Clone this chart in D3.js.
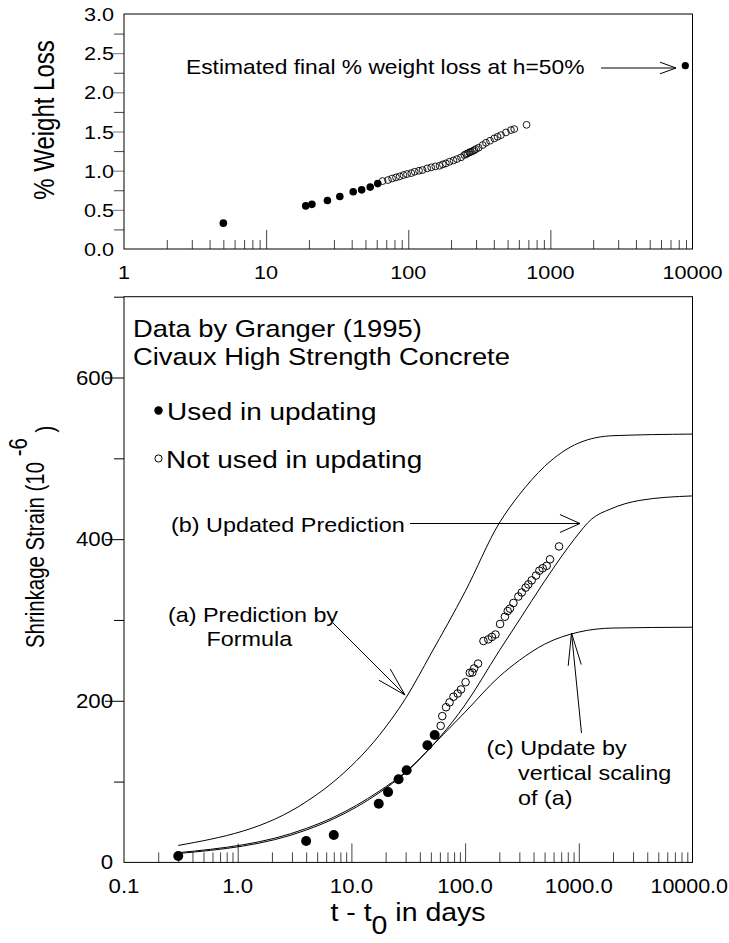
<!DOCTYPE html>
<html><head><meta charset="utf-8">
<script src="https://cdn.jsdelivr.net/npm/d3@7"></script>
<style>
body{margin:0;background:#fff}
svg{display:block}
text{font-family:"Liberation Sans",Arial,Helvetica,sans-serif;fill:#000}
</style>
</head><body>
<svg id="chart" width="729" height="943"></svg>
<script>
// ---------- DATA ----------
// Top panel: % weight loss vs time (days)
const wlUsedT = [5, 19, 21, 27, 33, 41, 47, 54, 61];
const wlUsedV = [0.33, 0.55, 0.57, 0.62, 0.67, 0.73, 0.755, 0.79, 0.835];
const wlNotT = [66, 72, 77, 82, 87, 92.5, 98, 105, 111, 119, 126, 136, 145, 155, 166, 175, 184, 195, 208, 220, 235, 248, 255, 262, 269, 276, 284, 292, 300, 313, 334, 352, 376, 403, 425, 449, 487, 528, 557, 680];
const wlNotV = [0.867, 0.88, 0.90, 0.914, 0.927, 0.944, 0.957, 0.969, 0.986, 0.999, 1.008, 1.029, 1.042, 1.055, 1.063, 1.08, 1.093, 1.114, 1.131, 1.148, 1.17, 1.199, 1.212, 1.22, 1.233, 1.241, 1.25, 1.263, 1.276, 1.293, 1.327, 1.356, 1.382, 1.412, 1.433, 1.454, 1.488, 1.518, 1.531, 1.585];
const wlFinalT = [8900];
const wlFinalV = [2.34];
const topXTicks = [1, 10, 100, 1000, 10000];
const topXTickLabels = ["1", "10", "100", "1000", "10000"];
const topYTicks = [0, 0.5, 1.0, 1.5, 2.0, 2.5, 3.0];
const topYTickLabels = ["0.0", "0.5", "1.0", "1.5", "2.0", "2.5", "3.0"];

// Bottom panel: shrinkage strain (1e-6) vs t - t0 (days)
const usedT = [0.3, 4, 7, 17.4, 21, 26, 30.6, 46.6, 54];
const usedV = [8, 26.5, 34, 72.6, 87, 103, 114, 145, 157.6];
const notUsedT = [61, 63, 68, 73, 79, 86, 92, 101, 110, 116, 120, 130, 145, 160, 172, 185, 203, 224, 237, 248, 266, 294, 315, 341, 360, 385, 421, 450, 481, 522, 558, 670];
const notUsedV = [169, 181, 192, 198, 205, 209, 214, 223, 234.6, 235, 240, 246, 274, 276, 279, 282, 295, 304, 311, 314, 321, 329, 334, 340, 344, 349, 355, 361, 364, 367, 375, 391];
// Curve (a) prediction by formula
const curveAT = [0.3, 4, 7, 17.5, 30, 50, 100, 200, 300, 500, 1000, 2000, 10000];
const curveAV = [21, 75, 100, 157, 203, 258, 335, 420, 455, 490, 519, 528, 530];
// Curve (b) updated prediction
const curveBT = [0.3, 4, 7, 17.5, 30, 45, 60, 100, 200, 300, 500, 700, 925, 1300, 1880, 3450, 10000];
const curveBV = [12, 42, 56, 88, 112, 136, 155, 195, 262, 300, 348, 378, 401, 425, 437, 448, 453.5];
// Curve (c) update by vertical scaling of (a)
const curveCT = [0.3, 4, 7, 17.5, 30, 60, 100, 200, 300, 500, 1000, 2000, 10000];
const curveCV = [11, 40, 54, 86, 111, 154, 186, 230, 250, 270, 285, 290, 291];
const botXTicks = [0.1, 1, 10, 100, 1000, 10000];
const botXTickLabels = ["0.1", "1.0", "10.0", "100.0", "1000.0", "10000.0"];
const botYTicks = [0, 200, 400, 600];
const botYTickLabels = ["0", "200", "400", "600"];

// ---------- DRAWING ----------
const SX = 1.14; // horizontal text stretch of the original figure
const svg = d3.select("#chart");

function txt(g, x, y, str, size, anchor, sx) {
  return g.append("text")
    .attr("transform", `translate(${x},${y}) scale(${sx || SX},1)`)
    .attr("font-size", size)
    .attr("text-anchor", anchor || "start")
    .text(str);
}
function arrowHead(g, tip, from, len, half) {
  const ang = Math.atan2(from[1] - tip[1], from[0] - tip[0]);
  const p1 = [tip[0] + len * Math.cos(ang + half), tip[1] + len * Math.sin(ang + half)];
  const p2 = [tip[0] + len * Math.cos(ang - half), tip[1] + len * Math.sin(ang - half)];
  g.append("path").attr("d", `M${p1}L${tip}L${p2}`).attr("fill", "none").attr("stroke", "#000").attr("stroke-width", 1);
  g.append("path").attr("d", `M${from}L${tip}`).attr("fill", "none").attr("stroke", "#000").attr("stroke-width", 1);
}
function minorLog(lo, hi) {
  const out = [];
  for (let d = lo; d < hi * 0.999; d *= 10) for (let m = 2; m <= 9; m++) out.push(d * m);
  return out;
}
function tickAxis(g, axis, vals, len, color) {
  g.call(axis.tickValues(vals).tickSize(-len).tickFormat(""))
   .call(s => s.select(".domain").remove())
   .call(s => s.selectAll("line").attr("stroke", color || "#222").attr("stroke-width", 1));
}

// ===== Top panel =====
const T = {l: 124, r: 692.5, t: 14, b: 249};
const xT = d3.scaleLog().domain([1, 10000]).range([T.l, T.r]);
const yT = d3.scaleLinear().domain([0, 3]).range([T.b, T.t]);
const gT = svg.append("g");

tickAxis(gT.append("g").attr("transform", `translate(0,${T.b})`), d3.axisBottom(xT), [10, 100, 1000], 19, "#444");
tickAxis(gT.append("g").attr("transform", `translate(0,${T.b})`), d3.axisBottom(xT), minorLog(1, 10000), 9, "#444");
tickAxis(gT.append("g").attr("transform", `translate(${T.l},0)`), d3.axisLeft(yT), [0.5, 1, 1.5, 2, 2.5], -11, "#777");
tickAxis(gT.append("g").attr("transform", `translate(${T.l},0)`), d3.axisLeft(yT), d3.range(0.25, 3, 0.5), -10, "#444");
gT.append("rect").attr("x", T.l).attr("y", T.t).attr("width", T.r - T.l).attr("height", T.b - T.t)
  .attr("fill", "none").attr("stroke", "#000").attr("stroke-width", 1);

topXTicks.forEach((v, i) => txt(gT, xT(v), 279, topXTickLabels[i], 19, "middle"));
topYTicks.forEach((v, i) => txt(gT, 114, yT(v) + 7, topYTickLabels[i], 19, "end"));

gT.append("text").attr("transform", `translate(54,120) rotate(-90) scale(1,1.2)`)
  .attr("font-size", 24).attr("text-anchor", "middle").text("% Weight Loss");

gT.selectAll("circle.wn").data(wlNotT).join("circle").attr("class", "wn")
  .attr("cx", d => xT(d)).attr("cy", (d, i) => yT(wlNotV[i])).attr("r", 3.4)
  .attr("fill", "none").attr("stroke", "#000").attr("stroke-width", 0.9);
gT.selectAll("circle.wu").data(wlUsedT).join("circle").attr("class", "wu")
  .attr("cx", d => xT(d)).attr("cy", (d, i) => yT(wlUsedV[i])).attr("r", 3.8).attr("fill", "#000");
gT.selectAll("circle.wf").data(wlFinalT).join("circle").attr("class", "wf")
  .attr("cx", d => xT(d)).attr("cy", (d, i) => yT(wlFinalV[i])).attr("r", 3.6).attr("fill", "#000");

txt(gT, 186, 74, "Estimated final % weight loss at h=50%", 20, "start");
arrowHead(gT, [676, 68], [601, 68], 17, 0.35);

// ===== Bottom panel =====
const B = {l: 124, r: 692.5, t: 296.7, b: 862.4};
const xB = d3.scaleLog().domain([0.1, 10000]).range([B.l, B.r]);
const yB = d3.scaleLinear().domain([0, 700]).range([B.b, B.t]);
const gB = svg.append("g");

tickAxis(gB.append("g").attr("transform", `translate(0,${B.b})`), d3.axisBottom(xB), [1, 10, 100, 1000], 19, "#444");
tickAxis(gB.append("g").attr("transform", `translate(0,${B.b})`), d3.axisBottom(xB), minorLog(0.1, 10000), 10, "#444");
tickAxis(gB.append("g").attr("transform", `translate(${B.l},0)`), d3.axisLeft(yB), [200, 400, 600], -19, "#000");
tickAxis(gB.append("g").attr("transform", `translate(${B.l},0)`), d3.axisLeft(yB), [100, 300, 500, 700], -10, "#000");
gB.append("rect").attr("x", B.l).attr("y", B.t).attr("width", B.r - B.l).attr("height", B.b - B.t)
  .attr("fill", "none").attr("stroke", "#000").attr("stroke-width", 1);

botXTicks.forEach((v, i) => {
  if (i === botXTicks.length - 1) txt(gB, 728, 893, botXTickLabels[i], 19.5, "end", 1.1);
  else txt(gB, xB(v), 893, botXTickLabels[i], 19.5, "middle");
});
botYTicks.forEach((v, i) => txt(gB, 113, yB(v) + 7, botYTickLabels[i], 19.5, "end"));

// axis titles
const xt = gB.append("text").attr("transform", `translate(408,921) scale(${SX},1)`)
  .attr("font-size", 25).attr("text-anchor", "middle");
xt.append("tspan").text("t - t");
xt.append("tspan").attr("dy", 13).text("0");
xt.append("tspan").attr("dy", -13).text(" in days");

const yt = gB.append("text").attr("transform", `translate(44,648) rotate(-90) scale(0.95,1.2)`)
  .attr("font-size", 21.5).attr("text-anchor", "start");
yt.append("tspan").text("Shrinkage Strain (10 ");
yt.append("tspan").attr("dy", -14).text("-6");
yt.append("tspan").attr("dy", 22).text(" )");

// curves
const line = d3.line().x(d => xB(d[0])).y(d => yB(d[1])).curve(d3.curveMonotoneX);
[[curveAT, curveAV], [curveBT, curveBV], [curveCT, curveCV]].forEach(([t, v]) => {
  gB.append("path").attr("d", line(t.map((d, i) => [d, v[i]])))
    .attr("fill", "none").attr("stroke", "#000").attr("stroke-width", 1);
});

// points
gB.selectAll("circle.nu").data(notUsedT).join("circle").attr("class", "nu")
  .attr("cx", d => xB(d)).attr("cy", (d, i) => yB(notUsedV[i])).attr("r", 3.8)
  .attr("fill", "none").attr("stroke", "#000").attr("stroke-width", 1);
gB.selectAll("circle.u").data(usedT).join("circle").attr("class", "u")
  .attr("cx", d => xB(d)).attr("cy", (d, i) => yB(usedV[i])).attr("r", 5).attr("fill", "#000");

// texts & legend
txt(gB, 133, 337, "Data by Granger (1995)", 24, "start");
txt(gB, 133, 365, "Civaux High Strength Concrete", 24, "start");
gB.append("circle").attr("cx", 158.5).attr("cy", 410.5).attr("r", 4.2).attr("fill", "#000");
txt(gB, 167, 420, "Used in updating", 24.5, "start");
gB.append("circle").attr("cx", 158.5).attr("cy", 458.5).attr("r", 3.6).attr("fill", "none").attr("stroke", "#000").attr("stroke-width", 1);
txt(gB, 166, 468, "Not used in updating", 24.5, "start");

txt(gB, 171, 531.5, "(b) Updated Prediction", 20.5, "start");
arrowHead(gB, [580, 523.5], [410, 523.5], 22, 0.42);

txt(gB, 168, 621.5, "(a) Prediction by", 20.5, "start");
txt(gB, 206.5, 646, "Formula", 20.5, "start");
arrowHead(gB, [405, 695], [333, 623], 30, 0.27);

txt(gB, 486.5, 755, "(c) Update by", 20.5, "start");
txt(gB, 518, 780, "vertical scaling", 20.5, "start");
txt(gB, 518, 805, "of (a)", 20.5, "start");
arrowHead(gB, [571.5, 633], [581.5, 733], 33, 0.2);
</script>
</body></html>
